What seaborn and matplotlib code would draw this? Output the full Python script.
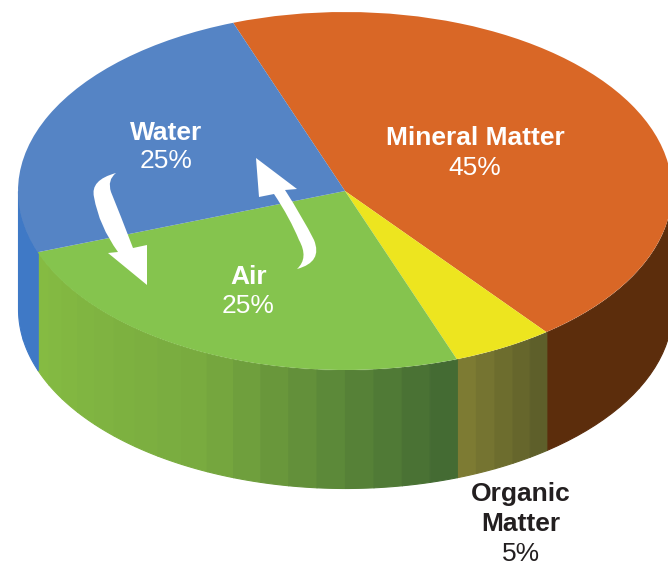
import numpy as np
import matplotlib
matplotlib.use("Agg")
import matplotlib.pyplot as plt
from matplotlib.patches import PathPatch
from matplotlib.path import Path
import seaborn as sns

# Soil composition by volume
names = ["Mineral Matter", "Organic Matter", "Air", "Water"]
shares = [45, 5, 25, 25]

face_colors = ["#d96726", "#ede51f", "#85c44e", "#5584c5"]
wall_stops = [
    ["#5c2d0c", "#5c2d0c"],
    ["#7d7b33", "#5e5f2a"],
    ["#85bb42", "#78aa3f", "#446b33"],
    ["#3f79c6", "#3f79c6"],
]
wall_bands = [2, 5, 18, 2]

W, H = 668, 565
CX, CY, RX, RY = 345.0, 191.0, 327.0, 179.0
DEPTH = 118.0

sns.set_theme(style="white")
plt.rcParams["font.family"] = ["Liberation Sans", "DejaVu Sans"]

fig = plt.figure(figsize=(W / 100, H / 100), dpi=100, facecolor="white")

# Pie axes: one data unit is one radius, squashed to an ellipse by the axes box
ax = fig.add_axes([0, 0, 1, 1])
ax.set_axis_off()

start = 110.0
edges = start - np.cumsum([0] + shares) * 3.6
for i in range(len(shares)):
    lo, hi = edges[i + 1] % 360, edges[i] % 360
    if hi <= lo:
        hi += 360
    lo_c, hi_c = max(lo, 180.0), min(hi, 360.0)
    if hi_c <= lo_c:
        continue
    band_colors = sns.blend_palette(wall_stops[i], wall_bands[i])
    steps = np.linspace(lo_c, hi_c, wall_bands[i] + 1)
    for k, col in enumerate(band_colors):
        t = np.radians(np.linspace(steps[k], steps[k + 1], 12))
        ax.fill_between(np.cos(t), np.sin(t), np.sin(t) - DEPTH / RY,
                        facecolor=col, edgecolor=col, lw=0.8, zorder=1)

wedges, _ = ax.pie(shares, colors=face_colors, startangle=start, counterclock=False,
                   radius=1.0, wedgeprops={"linewidth": 0, "zorder": 2})
ax.set_aspect("auto")
ax.set_xlim(-CX / RX, (W - CX) / RX)
ax.set_ylim((CY - H) / RY, CY / RY)
ax.set_axis_off()

# Overlay in pixel units for the labels and the exchange arrows
top = fig.add_axes([0, 0, 1, 1], facecolor="none")
top.set_xlim(0, W)
top.set_ylim(H, 0)
top.set_axis_off()


def label(x, y, txt, color="white", bold=False):
    top.text(x, y, txt, color=color, fontsize=19.0, ha="center", va="center",
             fontweight="bold" if bold else "normal")


label(475, 138, "Mineral Matter", bold=True)
label(475, 168, f"{shares[0]}%")
label(166, 133, "Water", bold=True)
label(166, 161, f"{shares[3]}%")
label(249, 277, "Air", bold=True)
label(248, 306, f"{shares[2]}%")
ink = "#231f20"
label(521, 494, "Organic", ink, True)
label(521, 524, "Matter", ink, True)
label(521, 554, f"{shares[1]}%", ink)

M, L, Q, C = Path.MOVETO, Path.LINETO, Path.CURVE3, Path.CLOSEPOLY

# Water draining down into the air space
down_arrow = Path(
    [(116, 173), (90, 180), (94, 197), (99, 226), (118, 252),
     (108, 253), (147, 285), (147, 245), (133, 248),
     (120, 214), (111, 192), (107, 180), (116, 173), (116, 173)],
    [M, Q, Q, Q, Q, L, L, L, L, Q, Q, Q, Q, C],
)
# Air returning up into the water space
up_arrow = Path(
    [(256, 158), (297, 189), (285, 190), (303, 218), (314, 240),
     (323, 262), (297, 269), (309, 258), (299, 240),
     (290, 218), (274, 194), (259, 197), (256, 158)],
    [M, L, L, Q, Q, Q, Q, Q, Q, Q, Q, L, C],
)
for shape in (down_arrow, up_arrow):
    top.add_patch(PathPatch(shape, facecolor="white", edgecolor="none", zorder=5))

fig.savefig("out.png", dpi=100, facecolor="white")
